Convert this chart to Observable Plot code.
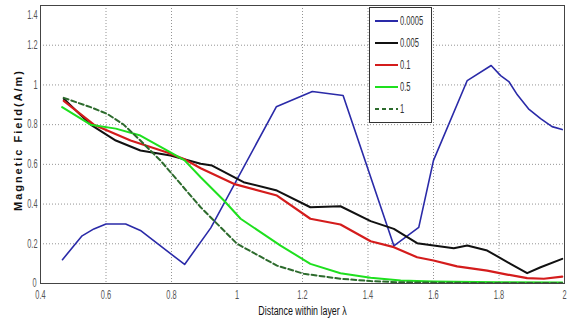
<!DOCTYPE html>
<html>
<head>
<meta charset="utf-8">
<script src="https://cdn.jsdelivr.net/npm/d3@7"></script>
<script src="https://cdn.jsdelivr.net/npm/@observablehq/plot@0.6"></script>
<style>
  html, body { margin: 0; padding: 0; background: #fff; }
  #wrap { position: relative; width: 577px; height: 322px; }
  #legend { position: absolute; left: 369px; top: 7px; width: 63px; height: 116px;
    border: 1px solid #333; background: #fff; box-sizing: border-box;
    font-family: "Liberation Sans", Arial, sans-serif; font-size: 12px; color: #333; }
  .row { position: absolute; left: 4px; height: 12px; display: flex; align-items: center; white-space: nowrap; }
  .row svg { margin-right: 1px; flex: none; }
  .row span { display: inline-block; transform: scaleX(0.63); transform-origin: left center; }
</style>
</head>
<body>
<div id="wrap"><div id="legend"></div></div>
<script>
const seriesNames = ["0.0005", "0.005", "0.1", "0.5", "1"];
const seriesColors = ["#2a2aa8", "#111111", "#d41c1c", "#1ee01e", "#2d6b2d"];

const blueX = [0.467, 0.527, 0.563, 0.6, 0.66, 0.705, 0.84, 0.92, 1.12, 1.23, 1.324, 1.479, 1.555, 1.6, 1.703, 1.776, 1.805, 1.83, 1.856, 1.89, 1.927, 1.962, 1.993];
const blueY = [0.12, 0.24, 0.275, 0.30, 0.30, 0.267, 0.096, 0.28, 0.89, 0.967, 0.947, 0.19, 0.283, 0.62, 1.022, 1.098, 1.047, 1.017, 0.95, 0.88, 0.83, 0.79, 0.775];

const blackX = [0.471, 0.553, 0.63, 0.705, 0.797, 0.889, 0.924, 1.02, 1.122, 1.224, 1.316, 1.408, 1.479, 1.55, 1.662, 1.703, 1.764, 1.835, 1.886, 1.927, 1.993];
const blackY = [0.93, 0.80, 0.72, 0.67, 0.645, 0.603, 0.594, 0.51, 0.468, 0.384, 0.389, 0.314, 0.275, 0.203, 0.178, 0.191, 0.166, 0.099, 0.052, 0.082, 0.124];

const redX = [0.471, 0.563, 0.675, 0.787, 0.84, 0.889, 0.99, 1.122, 1.224, 1.316, 1.408, 1.479, 1.55, 1.6, 1.672, 1.764, 1.825, 1.886, 1.937, 1.993];
const redY = [0.92, 0.80, 0.72, 0.66, 0.625, 0.58, 0.502, 0.443, 0.326, 0.297, 0.213, 0.183, 0.132, 0.116, 0.086, 0.065, 0.045, 0.027, 0.024, 0.035];

const greenX = [0.466, 0.553, 0.63, 0.705, 0.797, 0.84, 0.889, 0.96, 1.011, 1.133, 1.224, 1.316, 1.408, 1.5, 1.6, 1.8, 1.993];
const greenY = [0.888, 0.80, 0.78, 0.745, 0.66, 0.62, 0.535, 0.418, 0.326, 0.191, 0.099, 0.052, 0.029, 0.015, 0.01, 0.006, 0.005];

const dashX = [0.471, 0.553, 0.604, 0.654, 0.705, 0.756, 0.766, 0.889, 1.0, 1.122, 1.204, 1.316, 1.408, 1.5, 1.7, 1.993];
const dashY = [0.935, 0.888, 0.854, 0.80, 0.72, 0.636, 0.62, 0.384, 0.2, 0.09, 0.049, 0.024, 0.012, 0.006, 0.003, 0.003];

const xTicks = [0.4, 0.6, 0.8, 1, 1.2, 1.4, 1.6, 1.8, 2];
const xTickLabels = ["0.4", "0.6", "0.8", "1", "1.2", "1.4", "1.6", "1.8", "2"];
const yTicks = [0, 0.2, 0.4, 0.6, 0.8, 1, 1.2, 1.4];
const yTickLabels = ["0", "0.2", "0.4", "0.6", "0.8", "1", "1.2", "1.4"];

const xs = [blueX, blackX, redX, greenX, dashX];
const ys = [blueY, blackY, redY, greenY, dashY];
const data = [];
seriesNames.forEach((s, i) => xs[i].forEach((x, j) => data.push({series: s, x, y: ys[i][j]})));

const widths = [1.6, 2, 2.2, 2, 2];
const font = '"Liberation Sans", Arial, sans-serif';

const lineMarks = seriesNames.map((s, i) =>
  Plot.line(data.filter(d => d.series === s), {
    x: "x", y: "y", stroke: seriesColors[i], strokeWidth: widths[i],
    strokeDasharray: s === "1" ? "5,3" : null, curve: "linear"
  }));

const chart = Plot.plot({
  width: 577, height: 322,
  marginLeft: 40, marginRight: 13, marginTop: 5, marginBottom: 39,
  style: {fontFamily: font, fontSize: "12px", color: "#555", background: "#fff"},
  x: {domain: [0.4, 2]},
  y: {domain: [0, 1.4]},
  marks: [
    Plot.gridX(xTicks, {stroke: "#888", strokeOpacity: 0.9, strokeDasharray: "1,2"}),
    Plot.gridY(yTicks, {stroke: "#888", strokeOpacity: 0.9, strokeDasharray: "1,2"}),
    Plot.axisX({ticks: xTicks, tickFormat: d => xTickLabels[xTicks.indexOf(d)], tickSize: 0, tickPadding: 7,
      label: "Distance within layer λ", labelAnchor: "center", labelArrow: "none", labelOffset: 31, fill: "#555"}),
    Plot.axisY({ticks: yTicks, tickFormat: d => yTickLabels[yTicks.indexOf(d)], tickSize: 0, tickPadding: 3, label: null, fill: "#555"}),
    ...lineMarks,
    Plot.frame({stroke: "#444", strokeWidth: 1})
  ]
});

const wrap = document.getElementById("wrap");
wrap.insertBefore(chart, wrap.firstChild);

function condense(t, factor) {
  const L = t.getComputedTextLength();
  t.setAttribute("textLength", (L * factor).toFixed(1));
  t.setAttribute("lengthAdjust", "spacingAndGlyphs");
}
chart.querySelectorAll("g[aria-label='x-axis tick label'] text, g[aria-label='y-axis tick label'] text")
  .forEach(t => condense(t, 0.62));
chart.querySelectorAll("g[aria-label='y-axis tick label'] text").forEach(t => {
  if (t.textContent === "1.4") t.setAttribute("dy", "0.8em");
  if (t.textContent === "0") { t.setAttribute("dy", "-0.05em"); t.setAttribute("dx", "-1"); }
});
chart.querySelectorAll("g[aria-label='x-axis label'] text").forEach(t => {
  t.setAttribute("fill", "#111");
  condense(t, 0.74);
});

// y axis label as rotated bold text
const svgNS = "http://www.w3.org/2000/svg";
const yl = document.createElementNS(svgNS, "text");
yl.setAttribute("transform", "translate(22,141) rotate(-90)");
yl.setAttribute("text-anchor", "middle");
yl.setAttribute("font-family", "Liberation Sans, Arial, sans-serif");
yl.setAttribute("font-weight", "bold");
yl.setAttribute("font-size", "11");
yl.setAttribute("fill", "#111");
yl.textContent = "Magnetic Field(A/m)";
chart.appendChild(yl);
yl.setAttribute("textLength", "140");
yl.setAttribute("lengthAdjust", "spacing");

// Legend
const legend = document.getElementById("legend");
seriesNames.forEach((s, i) => {
  const row = document.createElement("div");
  row.className = "row";
  row.style.top = (7 + i * 22) + "px";
  row.innerHTML = `<svg width="25" height="10"><line x1="1" x2="24" y1="5" y2="5" stroke="${seriesColors[i]}" stroke-width="2" ${s === "1" ? 'stroke-dasharray="4,3"' : ''}/></svg><span>${s}</span>`;
  legend.appendChild(row);
});
</script>
</body>
</html>
